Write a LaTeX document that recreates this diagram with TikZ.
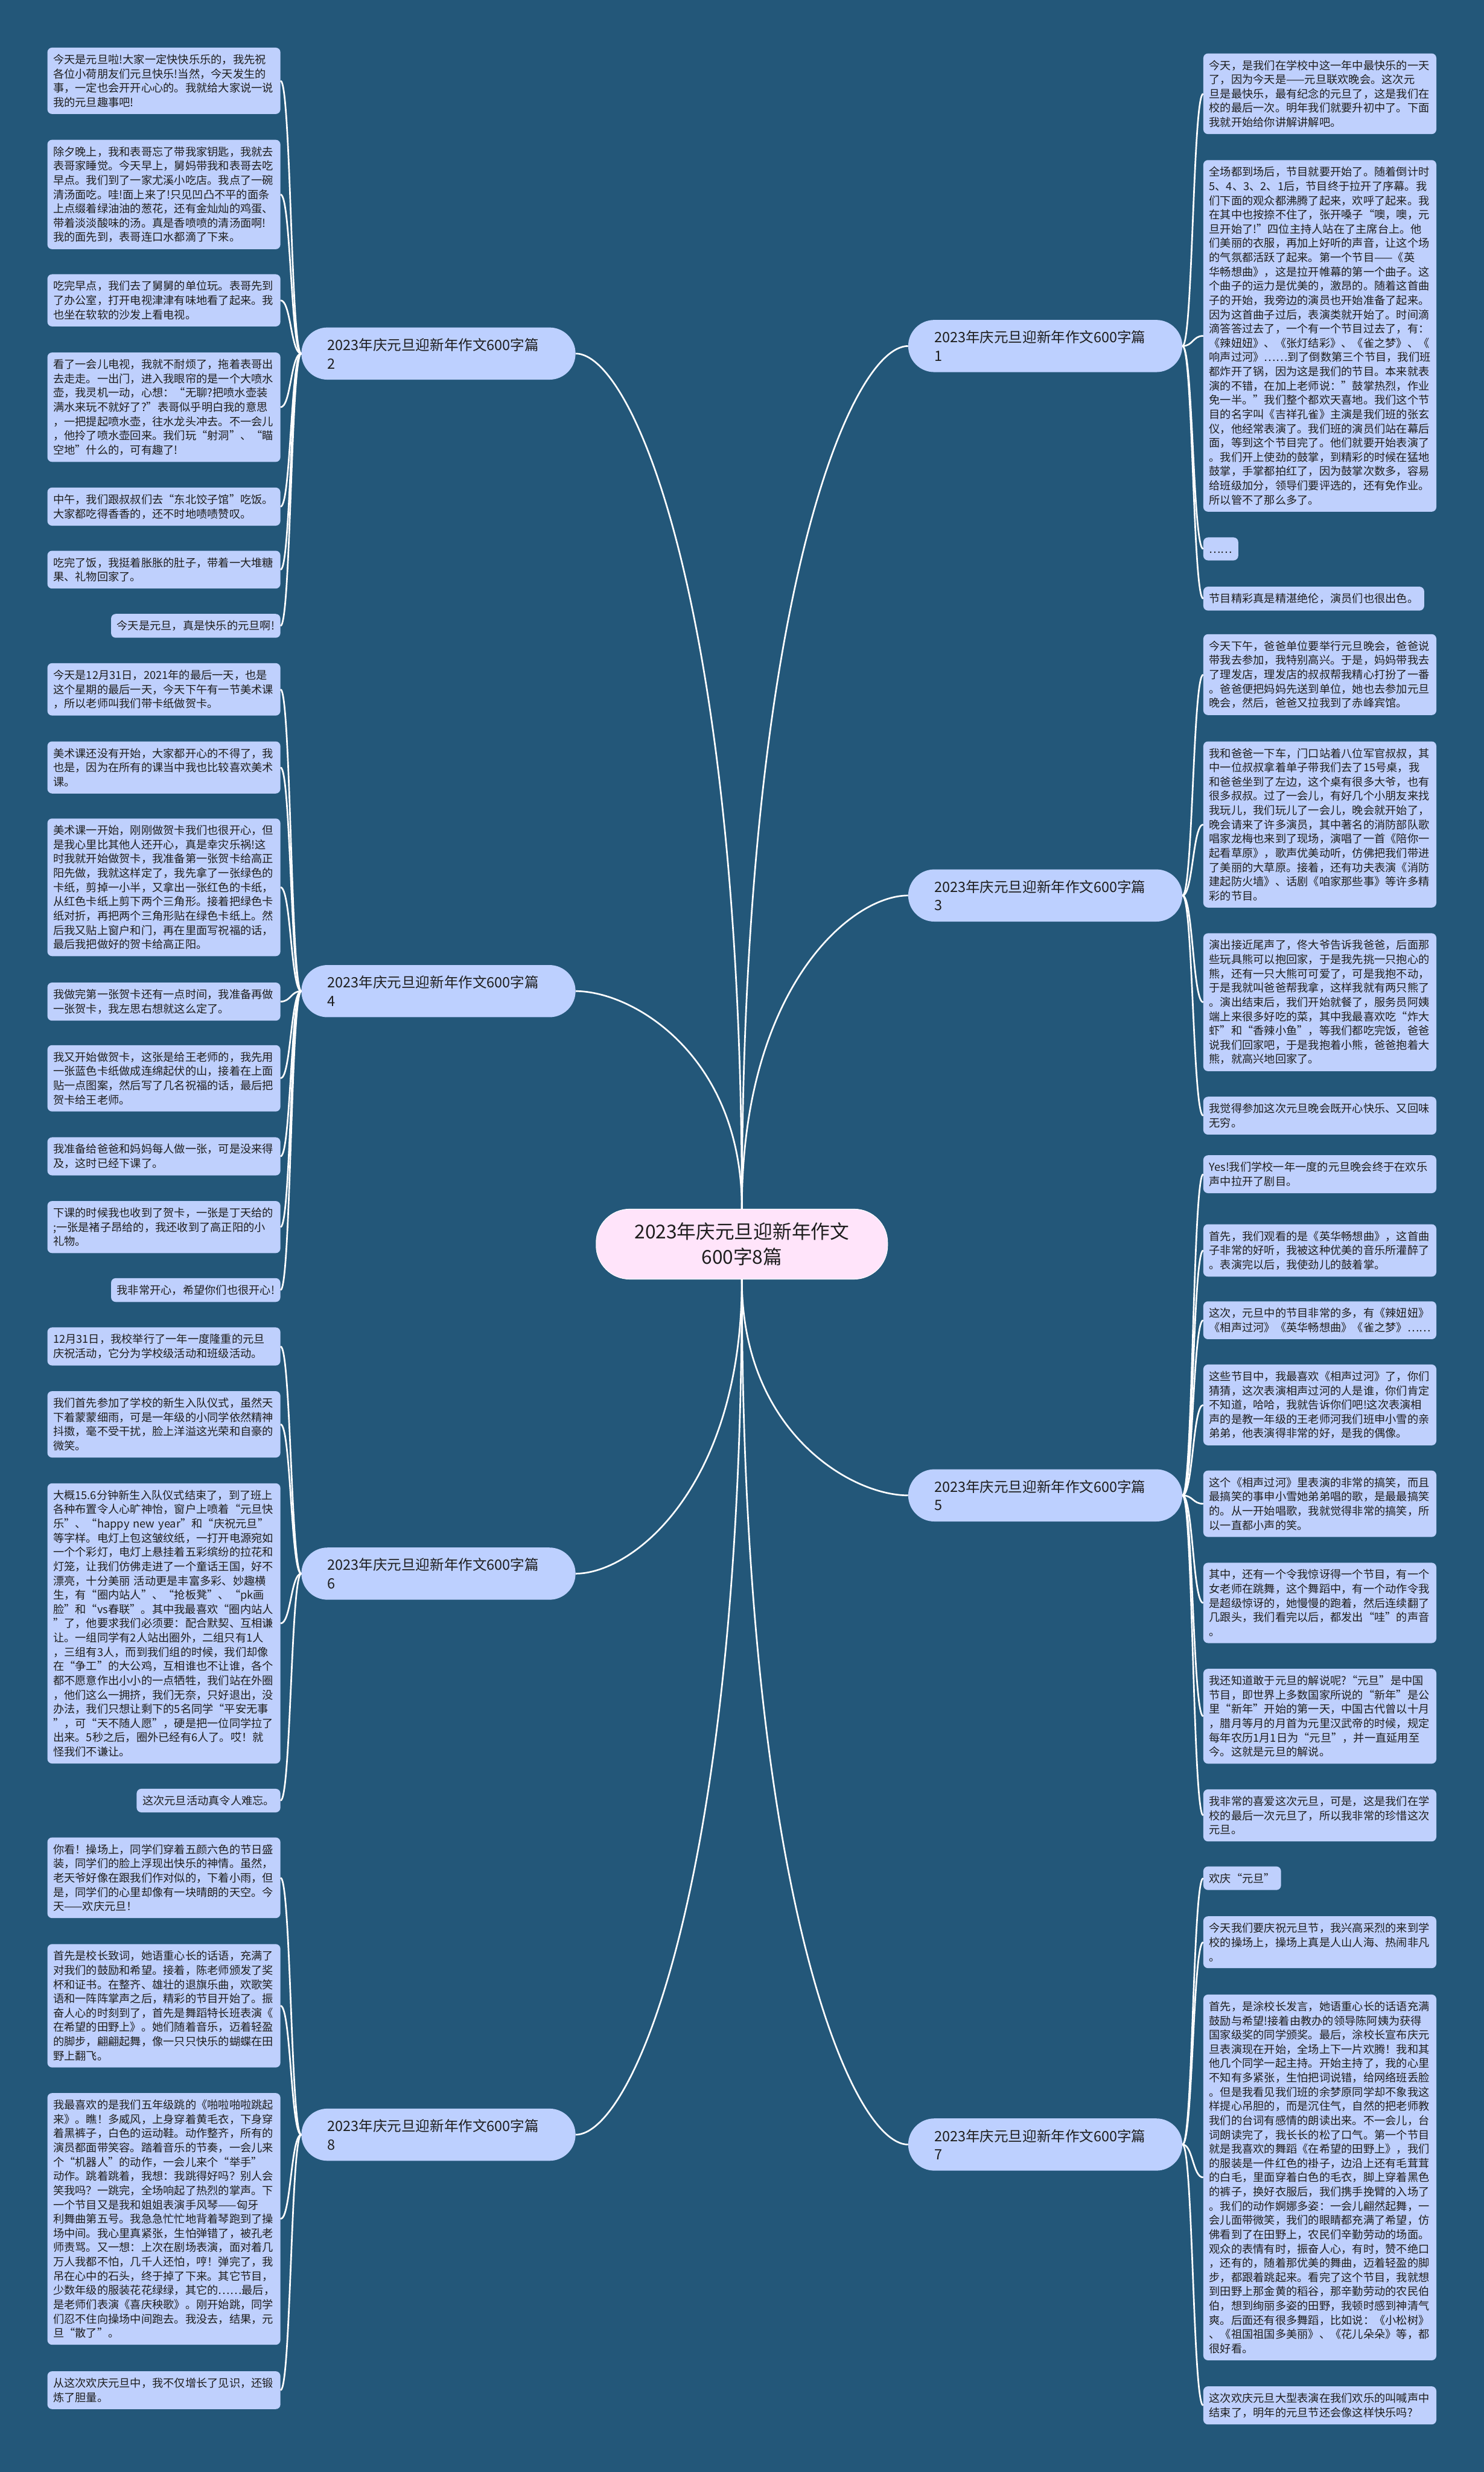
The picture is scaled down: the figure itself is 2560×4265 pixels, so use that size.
\documentclass[tikz,border=0pt]{standalone}
\usepackage{fontspec}
\setmainfont{Noto Sans CJK SC}
\definecolor{bgc}{HTML}{235779}
\definecolor{leafc}{HTML}{BFD0FD}
\definecolor{branchc}{HTML}{BDD0FF}
\definecolor{rootc}{HTML}{FFE4FA}
\definecolor{txtc}{HTML}{1E1E1E}
\newcommand\leaffont{\fontsize{19pt}{24.6pt}\selectfont}
\newcommand\branchfont{\fontsize{24.5pt}{32pt}\selectfont}
\newcommand\rootfont{\fontsize{33pt}{43pt}\selectfont}
\tikzset{
  conn/.style={draw=white, line width=2.8pt},
  leaf/.style={fill=leafc, rounded corners=8pt, inner xsep=10pt, inner ysep=11.5pt, align=left, font=\leaffont, text=txtc},
  leafl/.style={leaf, anchor=north east},
  leafr/.style={leaf, anchor=north west},
  wide/.style={text width=382pt},
  branch/.style={fill=branchc, rounded corners=45pt, text width=383pt, inner xsep=45pt, inner ysep=4pt, minimum height=90pt, align=left, font=\branchfont, text=txtc},
  rootnode/.style={fill=rootc, draw=white, line width=1pt, rounded corners=58pt, minimum width=503pt, minimum height=121pt, align=center, font=\rootfont, text=txtc},
}
\begin{document}
\begin{tikzpicture}[x=1pt, y=-1pt]
\fill[bgc] (0,0) rectangle (2560,4265);
\useasboundingbox (0,0) rectangle (2560,4265);

% root
\node[rootnode] (C) at (1280,2146.5) {2023年庆元旦迎新年作文\\600字8篇};

% branches
\node[branch] (B1) at (1803.5,597) {2023年庆元旦迎新年作文600字篇\\1};
\node[branch] (B2) at (756.5,610) {2023年庆元旦迎新年作文600字篇\\2};
\node[branch] (B3) at (1803.5,1545) {2023年庆元旦迎新年作文600字篇\\3};
\node[branch] (B4) at (756.5,1710) {2023年庆元旦迎新年作文600字篇\\4};
\node[branch] (B5) at (1803.5,2580) {2023年庆元旦迎新年作文600字篇\\5};
\node[branch] (B6) at (756.5,2715) {2023年庆元旦迎新年作文600字篇\\6};
\node[branch] (B7) at (1803.5,3700) {2023年庆元旦迎新年作文600字篇\\7};
\node[branch] (B8) at (756.5,3683) {2023年庆元旦迎新年作文600字篇\\8};

% root connectors
\draw[conn] (C.north) .. controls +(0,-1033) and +(100,0) .. (B2.east);
\draw[conn] (C.north) .. controls +(0,-1042) and +(-100,0) .. (B1.west);
\draw[conn] (C.north) .. controls +(0,-379) and +(-100,0) .. (B3.west);
\draw[conn] (C.north) .. controls +(0,-263) and +(100,0) .. (B4.east);
\draw[conn] (C.south) .. controls +(0,261) and +(-100,0) .. (B5.west);
\draw[conn] (C.south) .. controls +(0,356) and +(100,0) .. (B6.east);
\draw[conn] (C.south) .. controls +(0,1045) and +(-100,0) .. (B7.west);
\draw[conn] (C.south) .. controls +(0,1033) and +(100,0) .. (B8.east);

% ===== Left: branch 2 =====
\node[leafl,wide] (L2a) at (484,82) {今天是元旦啦!大家一定快快乐乐的，我先祝\\各位小荷朋友们元旦快乐!当然，今天发生的\\事，一定也会开开心心的。我就给大家说一说\\我的元旦趣事吧!};
\node[leafl,wide] (L2b) at (484,241) {除夕晚上，我和表哥忘了带我家钥匙，我就去\\表哥家睡觉。今天早上，舅妈带我和表哥去吃\\早点。我们到了一家尤溪小吃店。我点了一碗\\清汤面吃。哇!面上来了!只见凹凸不平的面条\\上点缀着绿油油的葱花，还有金灿灿的鸡蛋、\\带着淡淡酸味的汤。真是香喷喷的清汤面啊!\\我的面先到，表哥连口水都滴了下来。};
\node[leafl,wide] (L2c) at (484,473) {吃完早点，我们去了舅舅的单位玩。表哥先到\\了办公室，打开电视津津有味地看了起来。我\\也坐在软软的沙发上看电视。};
\node[leafl,wide] (L2d) at (484,608) {看了一会儿电视，我就不耐烦了，拖着表哥出\\去走走。一出门，进入我眼帘的是一个大喷水\\壶，我灵机一动，心想：“无聊?把喷水壶装\\满水来玩不就好了?”表哥似乎明白我的意思\\，一把提起喷水壶，往水龙头冲去。不一会儿\\，他拎了喷水壶回来。我们玩“射洞”、“瞄\\空地”什么的，可有趣了!};
\node[leafl,wide] (L2e) at (484,841) {中午，我们跟叔叔们去“东北饺子馆”吃饭。\\大家都吃得香香的，还不时地啧啧赞叹。};
\node[leafl,wide] (L2f) at (484,950) {吃完了饭，我挺着胀胀的肚子，带着一大堆糖\\果、礼物回家了。};
\node[leafl] (L2g) at (484,1059) {今天是元旦，真是快乐的元旦啊!};
\foreach \n in {L2a,L2b,L2c,L2d,L2e,L2f,L2g}
  \draw[conn] (B2.west) .. controls +(-18,0) and +(18,0) .. (\n.east);

% ===== Left: branch 4 =====
\node[leafl,wide] (L4a) at (484,1144) {今天是12月31日，2021年的最后一天，也是\\这个星期的最后一天，今天下午有一节美术课\\，所以老师叫我们带卡纸做贺卡。};
\node[leafl,wide] (L4b) at (484,1279) {美术课还没有开始，大家都开心的不得了，我\\也是，因为在所有的课当中我也比较喜欢美术\\课。};
\node[leafl,wide] (L4c) at (484,1412) {美术课一开始，刚刚做贺卡我们也很开心，但\\是我心里比其他人还开心，真是幸灾乐祸!这\\时我就开始做贺卡，我准备第一张贺卡给高正\\阳先做，我就这样定了，我先拿了一张绿色的\\卡纸，剪掉一小半，又拿出一张红色的卡纸，\\从红色卡纸上剪下两个三角形。接着把绿色卡\\纸对折，再把两个三角形贴在绿色卡纸上。然\\后我又贴上窗户和门，再在里面写祝福的话，\\最后我把做好的贺卡给高正阳。};
\node[leafl,wide] (L4d) at (484,1695) {我做完第一张贺卡还有一点时间，我准备再做\\一张贺卡，我左思右想就这么定了。};
\node[leafl,wide] (L4e) at (484,1803) {我又开始做贺卡，这张是给王老师的，我先用\\一张蓝色卡纸做成连绵起伏的山，接着在上面\\贴一点图案，然后写了几名祝福的话，最后把\\贺卡给王老师。};
\node[leafl,wide] (L4f) at (484,1962) {我准备给爸爸和妈妈每人做一张，可是没来得\\及，这时已经下课了。};
\node[leafl,wide] (L4g) at (484,2072) {下课的时候我也收到了贺卡，一张是丁天给的\\;一张是褚子昂给的，我还收到了高正阳的小\\礼物。};
\node[leafl] (L4h) at (484,2205) {我非常开心，希望你们也很开心!};
\foreach \n in {L4a,L4b,L4c,L4d,L4e,L4f,L4g,L4h}
  \draw[conn] (B4.west) .. controls +(-18,0) and +(18,0) .. (\n.east);

% ===== Left: branch 6 =====
\node[leafl,wide] (L6a) at (484,2290) {12月31日，我校举行了一年一度隆重的元旦\\庆祝活动，它分为学校级活动和班级活动。};
\node[leafl,wide] (L6b) at (484,2400) {我们首先参加了学校的新生入队仪式，虽然天\\下着蒙蒙细雨，可是一年级的小同学依然精神\\抖擞，毫不受干扰，脸上洋溢这光荣和自豪的\\微笑。};
\node[leafl,wide] (L6c) at (484,2559) {大概15.6分钟新生入队仪式结束了，到了班上\\各种布置令人心旷神怡，窗户上喷着“元旦快\\乐”、“happy~new~year”和“庆祝元旦”\\等字样。电灯上包这皱纹纸，一打开电源宛如\\一个个彩灯，电灯上悬挂着五彩缤纷的拉花和\\灯笼，让我们仿佛走进了一个童话王国，好不\\漂亮，十分美丽~活动更是丰富多彩、妙趣横\\生，有“圈内站人”、“抢板凳”、“pk画\\脸”和“vs春联”。其中我最喜欢“圈内站人\\”了，他要求我们必须要：配合默契、互相谦\\让。一组同学有2人站出圈外，二组只有1人\\，三组有3人，而到我们组的时候，我们却像\\在“争工”的大公鸡，互相谁也不让谁，各个\\都不愿意作出小小的一点牺牲，我们站在外圈\\，他们这么一拥挤，我们无奈，只好退出，没\\办法，我们只想让剩下的5名同学“平安无事\\”，可“天不随人愿”，硬是把一位同学拉了\\出来。5秒之后，圈外已经有6人了。哎！就\\怪我们不谦让。};
\node[leafl] (L6d) at (484,3086) {这次元旦活动真令人难忘。};
\foreach \n in {L6a,L6b,L6c,L6d}
  \draw[conn] (B6.west) .. controls +(-18,0) and +(18,0) .. (\n.east);

% ===== Left: branch 8 =====
\node[leafl,wide] (L8a) at (484,3170) {你看！操场上，同学们穿着五颜六色的节日盛\\装，同学们的脸上浮现出快乐的神情。虽然，\\老天爷好像在跟我们作对似的，下着小雨，但\\是，同学们的心里却像有一块晴朗的天空。今\\天——欢庆元旦！};
\node[leafl,wide] (L8b) at (484,3354) {首先是校长致词，她语重心长的话语，充满了\\对我们的鼓励和希望。接着，陈老师颁发了奖\\杯和证书。在整齐、雄壮的退旗乐曲，欢歌笑\\语和一阵阵掌声之后，精彩的节目开始了。振\\奋人心的时刻到了，首先是舞蹈特长班表演《\\在希望的田野上》。她们随着音乐，迈着轻盈\\的脚步，翩翩起舞，像一只只快乐的蝴蝶在田\\野上翻飞。};
\node[leafl,wide] (L8c) at (484,3611) {我最喜欢的是我们五年级跳的《啪啦啪啦跳起\\来》。瞧！多威风，上身穿着黄毛衣，下身穿\\着黑裤子，白色的运动鞋。动作整齐，所有的\\演员都面带笑容。踏着音乐的节奏，一会儿来\\个“机器人”的动作，一会儿来个“举手”\\动作。跳着跳着，我想：我跳得好吗？别人会\\笑我吗？一跳完，全场响起了热烈的掌声。下\\一个节目又是我和姐姐表演手风琴——匈牙\\利舞曲第五号。我急急忙忙地背着琴跑到了操\\场中间。我心里真紧张，生怕弹错了，被孔老\\师责骂。又一想：上次在剧场表演，面对着几\\万人我都不怕，几千人还怕，哼！弹完了，我\\吊在心中的石头，终于掉了下来。其它节目，\\少数年级的服装花花绿绿，其它的……最后，\\是老师们表演《喜庆秧歌》。刚开始跳，同学\\们忍不住向操场中间跑去。我没去，结果，元\\旦“散了”。};
\node[leafl,wide] (L8d) at (484,4091) {从这次欢庆元旦中，我不仅增长了见识，还锻\\炼了胆量。};
\foreach \n in {L8a,L8b,L8c,L8d}
  \draw[conn] (B8.west) .. controls +(-18,0) and +(18,0) .. (\n.east);

% ===== Right: branch 1 =====
\node[leafr,wide] (R1a) at (2076,92) {今天，是我们在学校中这一年中最快乐的一天\\了，因为今天是——元旦联欢晚会。这次元\\旦是最快乐，最有纪念的元旦了，这是我们在\\校的最后一次。明年我们就要升初中了。下面\\我就开始给你讲解讲解吧。};
\node[leafr,wide] (R1b) at (2076,276) {全场都到场后，节目就要开始了。随着倒计时\\5、4、3、2、1后，节目终于拉开了序幕。我\\们下面的观众都沸腾了起来，欢呼了起来。我\\在其中也按捺不住了，张开嗓子“噢，噢，元\\旦开始了!”四位主持人站在了主席台上。他\\们美丽的衣服，再加上好听的声音，让这个场\\的气氛都活跃了起来。第一个节目——《英\\华畅想曲》，这是拉开帷幕的第一个曲子。这\\个曲子的运力是优美的，激昂的。随着这首曲\\子的开始，我旁边的演员也开始准备了起来。\\因为这首曲子过后，表演类就开始了。时间滴\\滴答答过去了，一个有一个节目过去了，有：\\《辣妞妞》、《张灯结彩》、《雀之梦》、《\\响声过河》……到了倒数第三个节目，我们班\\都炸开了锅，因为这是我们的节目。本来就表\\演的不错，在加上老师说：”鼓掌热烈，作业\\免一半。”我们整个都欢天喜地。我们这个节\\目的名字叫《吉祥孔雀》主演是我们班的张玄\\仪，他经常表演了。我们班的演员们站在幕后\\面，等到这个节目完了。他们就要开始表演了\\。我们开上使劲的鼓掌，到精彩的时候在猛地\\鼓掌，手掌都拍红了，因为鼓掌次数多，容易\\给班级加分，领导们要评选的，还有免作业。\\所以管不了那么多了。};
\node[leafr] (R1c) at (2076,927) {\vphantom{国}……};
\node[leafr] (R1d) at (2076,1012) {节目精彩真是精湛绝伦，演员们也很出色。};
\foreach \n in {R1a,R1b,R1c,R1d}
  \draw[conn] (B1.east) .. controls +(18,0) and +(-18,0) .. (\n.west);

% ===== Right: branch 3 =====
\node[leafr,wide] (R3a) at (2076,1094) {今天下午，爸爸单位要举行元旦晚会，爸爸说\\带我去参加，我特别高兴。于是，妈妈带我去\\了理发店，理发店的叔叔帮我精心打扮了一番\\。爸爸便把妈妈先送到单位，她也去参加元旦\\晚会，然后，爸爸又拉我到了赤峰宾馆。};
\node[leafr,wide] (R3b) at (2076,1279) {我和爸爸一下车，门口站着八位军官叔叔，其\\中一位叔叔拿着单子带我们去了15号桌，我\\和爸爸坐到了左边，这个桌有很多大爷，也有\\很多叔叔。过了一会儿，有好几个小朋友来找\\我玩儿，我们玩儿了一会儿，晚会就开始了，\\晚会请来了许多演员，其中著名的消防部队歌\\唱家龙梅也来到了现场，演唱了一首《陪你一\\起看草原》，歌声优美动听，仿佛把我们带进\\了美丽的大草原。接着，还有功夫表演《消防\\建起防火墙》、话剧《咱家那些事》等许多精\\彩的节目。};
\node[leafr,wide] (R3c) at (2076,1610) {演出接近尾声了，佟大爷告诉我爸爸，后面那\\些玩具熊可以抱回家，于是我先挑一只抱心的\\熊，还有一只大熊可可爱了，可是我抱不动，\\于是我就叫爸爸帮我拿，这样我就有两只熊了\\。演出结束后，我们开始就餐了，服务员阿姨\\端上来很多好吃的菜，其中我最喜欢吃“炸大\\虾”和“香辣小鱼”，等我们都吃完饭，爸爸\\说我们回家吧，于是我抱着小熊，爸爸抱着大\\熊，就高兴地回家了。};
\node[leafr,wide] (R3d) at (2076,1892) {我觉得参加这次元旦晚会既开心快乐、又回味\\无穷。};
\foreach \n in {R3a,R3b,R3c,R3d}
  \draw[conn] (B3.east) .. controls +(18,0) and +(-18,0) .. (\n.west);

% ===== Right: branch 5 =====
\node[leafr,wide] (R5a) at (2076,1993) {Yes!我们学校一年一度的元旦晚会终于在欢乐\\声中拉开了剧目。};
\node[leafr,wide] (R5b) at (2076,2112) {首先，我们观看的是《英华畅想曲》，这首曲\\子非常的好听，我被这种优美的音乐所灌醉了\\。表演完以后，我使劲儿的鼓着掌。};
\node[leafr,wide] (R5c) at (2076,2245) {这次，元旦中的节目非常的多，有《辣妞妞》\\《相声过河》《英华畅想曲》《雀之梦》……};
\node[leafr,wide] (R5d) at (2076,2354) {这些节目中，我最喜欢《相声过河》了，你们\\猜猜，这次表演相声过河的人是谁，你们肯定\\不知道，哈哈，我就告诉你们吧!这次表演相\\声的是教一年级的王老师河我们班申小雪的亲\\弟弟，他表演得非常的好，是我的偶像。};
\node[leafr,wide] (R5e) at (2076,2537) {这个《相声过河》里表演的非常的搞笑，而且\\最搞笑的事申小雪她弟弟唱的歌，是最最搞笑\\的。从一开始唱歌，我就觉得非常的搞笑，所\\以一直都小声的笑。};
\node[leafr,wide] (R5f) at (2076,2696) {其中，还有一个令我惊讶得一个节目，有一个\\女老师在跳舞，这个舞蹈中，有一个动作令我\\是超级惊讶的，她慢慢的跑着，然后连续翻了\\几跟头，我们看完以后，都发出“哇”的声音\\。};
\node[leafr,wide] (R5g) at (2076,2879) {我还知道敢于元旦的解说呢?“元旦”是中国\\节目，即世界上多数国家所说的“新年”是公\\里“新年”开始的第一天，中国古代曾以十月\\，腊月等月的月首为元里汉武帝的时候，规定\\每年农历1月1日为“元旦”，并一直延用至\\今。这就是元旦的解说。};
\node[leafr,wide] (R5h) at (2076,3087) {我非常的喜爱这次元旦，可是，这是我们在学\\校的最后一次元旦了，所以我非常的珍惜这次\\元旦。};
\foreach \n in {R5a,R5b,R5c,R5d,R5e,R5f,R5g,R5h}
  \draw[conn] (B5.east) .. controls +(18,0) and +(-18,0) .. (\n.west);

% ===== Right: branch 7 =====
\node[leafr] (R7a) at (2076,3220) {欢庆“元旦”};
\node[leafr,wide] (R7b) at (2076,3306) {今天我们要庆祝元旦节，我兴高采烈的来到学\\校的操场上，操场上真是人山人海、热闹非凡\\。};
\node[leafr,wide] (R7c) at (2076,3441) {首先，是涂校长发言，她语重心长的话语充满\\鼓励与希望!接着由教办的领导陈阿姨为获得\\国家级奖的同学颁奖。最后，涂校长宣布庆元\\旦表演现在开始，全场上下一片欢腾！我和其\\他几个同学一起主持。开始主持了，我的心里\\不知有多紧张，生怕把词说错，给网络班丢脸\\。但是我看见我们班的余梦原同学却不象我这\\样提心吊胆的，而是沉住气，自然的把老师教\\我们的台词有感情的朗读出来。不一会儿，台\\词朗读完了，我长长的松了口气。第一个节目\\就是我喜欢的舞蹈《在希望的田野上》，我们\\的服装是一件红色的褂子，边沿上还有毛茸茸\\的白毛，里面穿着白色的毛衣，脚上穿着黑色\\的裤子，换好衣服后，我们携手挽臂的入场了\\。我们的动作婀娜多姿：一会儿翩然起舞，一\\会儿面带微笑，我们的眼睛都充满了希望，仿\\佛看到了在田野上，农民们辛勤劳动的场面。\\观众的表情有时，振奋人心，有时，赞不绝口\\，还有的，随着那优美的舞曲，迈着轻盈的脚\\步，都跟着跳起来。看完了这个节目，我就想\\到田野上那金黄的稻谷，那辛勤劳动的农民伯\\伯，想到绚丽多姿的田野，我顿时感到神清气\\爽。后面还有很多舞蹈，比如说：《小松树》\\、《祖国祖国多美丽》、《花儿朵朵》等，都\\很好看。};
\node[leafr,wide] (R7d) at (2076,4117) {这次欢庆元旦大型表演在我们欢乐的叫喊声中\\结束了，明年的元旦节还会像这样快乐吗?};
\foreach \n in {R7a,R7b,R7c,R7d}
  \draw[conn] (B7.east) .. controls +(18,0) and +(-18,0) .. (\n.west);
\end{tikzpicture}
\end{document}
